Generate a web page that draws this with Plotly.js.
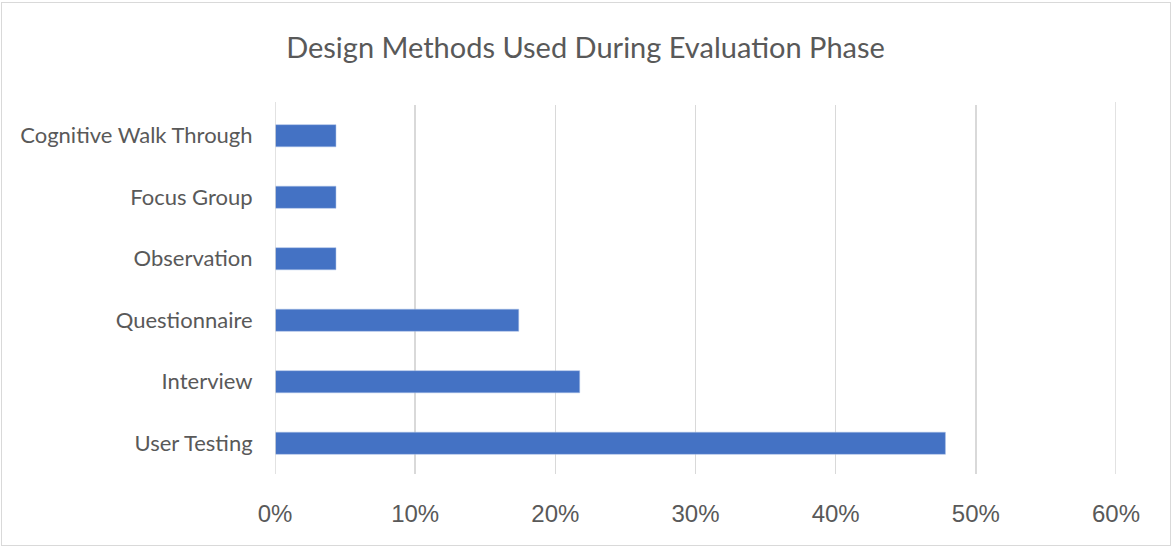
<!DOCTYPE html>
<html><head><meta charset="utf-8">
<script src="https://cdn.plot.ly/plotly-3.0.1.min.js"></script>
<style>body{margin:0;padding:0;background:#fff}#chart{width:1171px;height:546px}</style>
</head><body><div id="chart"></div>
<script>
const categories = ["User Testing","Interview","Questionnaire","Observation","Focus Group","Cognitive Walk Through"];
const shares = [0.4783,0.2174,0.1739,0.0435,0.0435,0.0435];
const tickVals = [0,0.1,0.2,0.3,0.4,0.5,0.6];
const tickText = ["0%","10%","20%","30%","40%","50%","60%"];

Plotly.newPlot('chart',[{
  type:'bar', orientation:'h', x:shares, y:categories,
  marker:{color:'#4472c4', line:{color:'#a9bfe6', width:0.5}},
  width:0.36, hoverinfo:'x+y'
}],{
  width:1171, height:546,
  margin:{l:275,r:55,t:105,b:72},
  paper_bgcolor:'#fff', plot_bgcolor:'#fff',
  title:{text:'Design Methods Used During Evaluation Phase', x:0.5, xanchor:'center', y:0.913, yanchor:'middle',
    font:{family:'Lato, "Open Sans", sans-serif', size:29, color:'#595959'}},
  xaxis:{range:[0,0.6], tickvals:tickVals, ticktext:tickText, showgrid:true, gridcolor:'#d9d9d9', gridwidth:1.5,
    zeroline:false, showline:false, ticks:'outside', ticklen:18, tickcolor:'rgba(0,0,0,0)',
    tickfont:{family:'"Liberation Sans", Arial, sans-serif', size:24, color:'#595959'}, fixedrange:true},
  yaxis:{categoryorder:'array', categoryarray:categories, showgrid:false, zeroline:false,
    showline:false, ticks:'outside', ticklen:17, tickcolor:'rgba(0,0,0,0)',
    tickfont:{family:'Lato, "Open Sans", sans-serif', size:22, color:'#595959'}, fixedrange:true},
  shapes:[
    {type:'line', xref:'x', yref:'paper', x0:0, x1:0, y0:0, y1:1.008, line:{color:'#d9d9d9', width:1.5}},
    {type:'line', xref:'x', yref:'paper', x0:0.6, x1:0.6, y0:0, y1:1.008, line:{color:'#d9d9d9', width:1.5}}],
  showlegend:false
},{displayModeBar:false, staticPlot:true});
</script>
<div style="position:absolute;left:1px;top:2px;width:1168px;height:542px;border:1px solid #d9d9d9;pointer-events:none"></div>
</body></html>
